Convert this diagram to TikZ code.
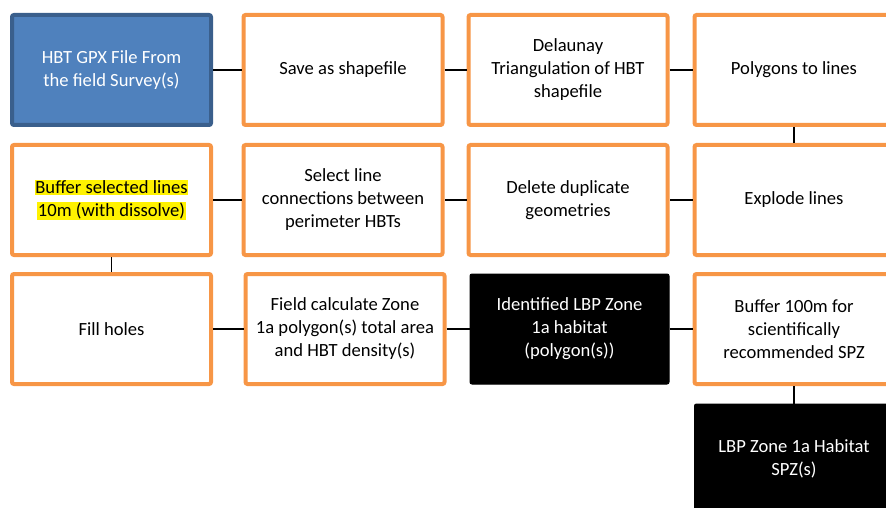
\documentclass[tikz,border=0pt]{standalone}
\usepackage{fontspec}
\setmainfont{Carlito}
\usepackage{tikz}

\definecolor{boxorange}{HTML}{F79646}
\definecolor{boxblue}{HTML}{4F81BD}
\definecolor{boxblueline}{HTML}{3A5F8C}
\newcommand{\hilite}[1]{{\setlength{\fboxsep}{0.8pt}\colorbox{yellow}{#1}}}

\tikzset{
  flowbox/.style={minimum width=199pt, minimum height=110pt, align=center,
    rounded corners=2pt, font=\fontsize{18.6}{23}\selectfont},
  procbox/.style={flowbox, draw=boxorange, line width=4pt, fill=white},
  inbox/.style={flowbox, draw=boxblueline, line width=4pt, fill=boxblue, text=white},
  outbox/.style={flowbox, draw=black, line width=1pt, fill=black, text=white},
  link/.style={draw=black, line width=1.5pt}
}

\begin{document}
\begin{tikzpicture}[x=1pt,y=-1pt]
  \clip (0,0) rectangle (886,508);
  % first row
  \node[inbox] (gpx) at (111.5,70) {HBT GPX File From\\the field Survey(s)};
  \node[procbox] (save) at (343,70) {Save as shapefile};
  \node[procbox] (tri) at (568,70) {Delaunay\\Triangulation of HBT\\shapefile};
  \node[procbox] (poly) at (794,70) {Polygons to lines};
  % second row
  \node[procbox] (buf) at (111.5,200) {\hilite{Buffer selected lines}\\\hilite{10m (with dissolve)}};
  \node[procbox] (sel) at (343,200) {Select line\\connections between\\perimeter HBTs};
  \node[procbox] (dup) at (568,200) {Delete duplicate\\geometries};
  \node[procbox] (expl) at (794,200) {Explode lines};
  % third row
  \node[procbox] (fill) at (111.5,329) {Fill holes};
  \node[procbox] (calc) at (345,329) {Field calculate Zone\\1a polygon(s) total area\\and HBT density(s)};
  \node[outbox] (zone) at (569.5,329) {Identified LBP Zone\\1a habitat\\(polygon(s))};
  \node[procbox] (spz) at (794,329) {Buffer 100m for\\scientifically\\recommended SPZ};
  % result
  \node[outbox] (res) at (794,459) {LBP Zone 1a Habitat\\SPZ(s)};

  \draw[link] (gpx) -- (save);
  \draw[link] (save) -- (tri);
  \draw[link] (tri) -- (poly);
  \draw[link] (poly) -- (expl);
  \draw[link] (expl) -- (dup);
  \draw[link] (dup) -- (sel);
  \draw[link] (sel) -- (buf);
  \draw[link] (buf) -- (fill);
  \draw[link] (fill) -- (calc);
  \draw[link] (calc) -- (zone);
  \draw[link] (zone) -- (spz);
  \draw[link] (spz) -- (res);
\end{tikzpicture}
\end{document}
